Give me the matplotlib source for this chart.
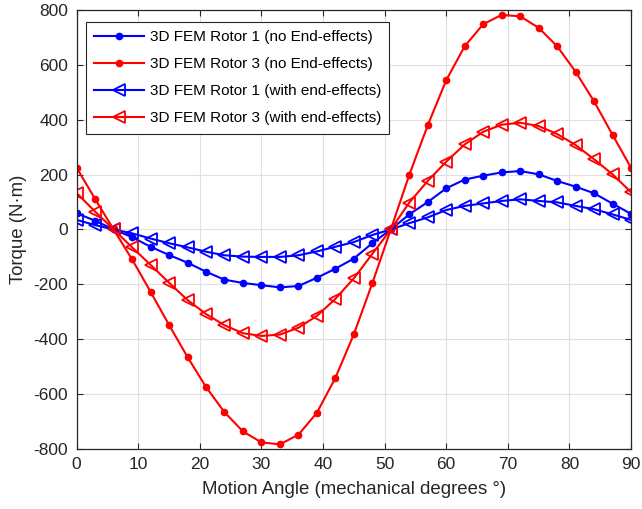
import numpy as np
from matplotlib import pyplot as plt

plt.rcParams['font.family'] = ['Liberation Sans', 'DejaVu Sans']
plt.rcParams['axes.unicode_minus'] = False

angle = np.arange(0, 91, 3)

# Rotor 1 / Rotor 3 torque, no end-effects
rotor1_no_end = [59, 32, 0, -28, -63, -93, -121, -154, -183, -195, -203, -211, -206, -176, -143, -106,
                 -50, 0, 55, 100, 150, 182, 196, 208, 213, 201, 177, 156, 132, 94, 57]
rotor3_no_end = [225, 111, 0, -109, -227, -348, -465, -574, -666, -736, -776, -783, -748, -668, -541, -382,
                 -196, 0, 199, 380, 544, 668, 748, 782, 777, 735, 668, 575, 467, 345, 225]

# with end-effects
rotor1_end = [35, 16, 0, -14, -33, -50, -65, -81, -94, -99, -100, -100, -94, -80, -63, -46,
              -20, 0, 23, 44, 71, 86, 95, 104, 110, 104, 99, 86, 74, 55, 35]
rotor3_end = [133, 65, 0, -65, -129, -194, -257, -308, -349, -378, -388, -383, -358, -315, -253, -178,
              -89, 0, 98, 177, 247, 310, 356, 382, 389, 377, 348, 308, 256, 201, 136]

fig = plt.figure(figsize=(6.42, 5.09), dpi=100)
ax = fig.add_axes([0.1194, 0.1179, 0.8635, 0.8625])

ax.plot(angle, rotor1_no_end, color='#0000ff', lw=1.5, marker='o', ms=4.5,
        label='3D FEM Rotor 1 (no End-effects)')
ax.plot(angle, rotor3_no_end, color='#ff0000', lw=1.5, marker='o', ms=4.5,
        label='3D FEM Rotor 3 (no End-effects)')
ax.plot(angle, rotor1_end, color='#0000ff', lw=1.5, marker='<', ms=9, mfc='none', mew=1.3,
        label='3D FEM Rotor 1 (with end-effects)')
ax.plot(angle, rotor3_end, color='#ff0000', lw=1.5, marker='<', ms=9, mfc='none', mew=1.3,
        label='3D FEM Rotor 3 (with end-effects)')

ax.set_xlim(0, 90)
ax.set_ylim(-800, 800)
ax.set_xticks(range(0, 91, 10))
ax.set_yticks(range(-800, 801, 200))
ax.grid(True, color='#e0e0e0', lw=0.8)
ax.set_axisbelow(True)
for s in ax.spines.values():
    s.set_color('#262626')
    s.set_linewidth(0.9)
ax.tick_params(direction='in', top=True, right=True, length=4, labelsize=12.5,
               colors='#262626', pad=6)

ax.set_xlabel('Motion Angle (mechanical degrees °)', fontsize=13.4, color='#262626', labelpad=6)
ax.set_ylabel('Torque (N·m)', fontsize=13.4, color='#262626', labelpad=5)

leg = ax.legend(loc='upper left', bbox_to_anchor=(0.016, 0.973), fontsize=11,
                handlelength=3.3, fancybox=False, framealpha=1, borderpad=0.55,
                labelspacing=0.85, handletextpad=0.35, borderaxespad=0)
leg.get_frame().set_edgecolor('#262626')
leg.get_frame().set_linewidth(0.8)

fig.savefig('out.png', dpi=100)
